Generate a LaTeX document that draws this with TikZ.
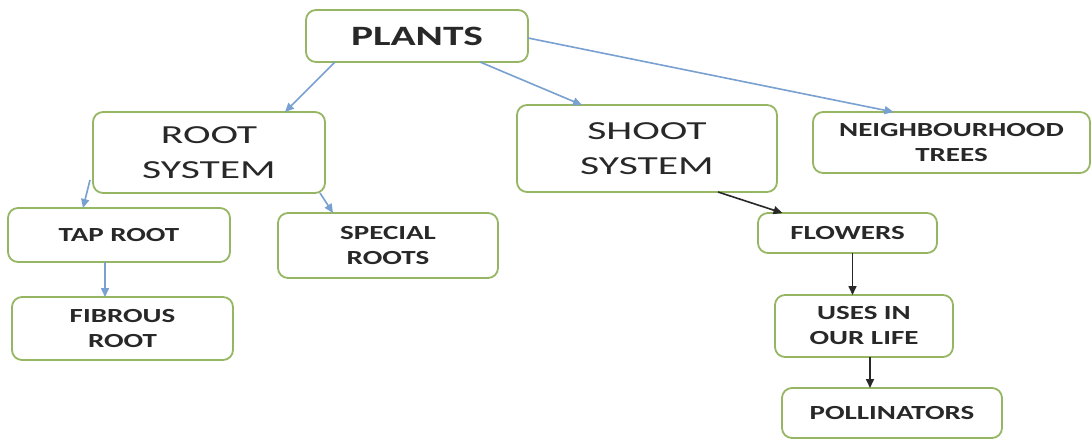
\documentclass[tikz,border=0pt]{standalone}
\usepackage{fontspec}
\usetikzlibrary{arrows.meta}
\newfontfamily\bigfont{Carlito}[FakeStretch=1.6]
\newfontfamily\smallfont{Carlito Bold}[FakeStretch=1.45]
\newfontfamily\topfont{Carlito Bold}[FakeStretch=1.48]
\definecolor{boxgreen}{RGB}{150,182,100}
\definecolor{linkblue}{RGB}{120,160,208}
\definecolor{inkgray}{RGB}{40,40,40}

\begin{document}
\begin{tikzpicture}[x=1pt,y=-1pt,
                box/.style={draw=boxgreen,line width=1.8pt,rounded corners=10pt,fill=white,
                        inner sep=0pt,outer sep=0pt,align=center,text=inkgray},
                bigbox/.style={box,font=\bigfont\fontsize{26}{35}\selectfont},
                smallbox/.style={box,font=\smallfont\fontsize{20}{25}\selectfont},
                bluelink/.style={draw=linkblue,line width=1.6pt,-{Triangle[length=9pt,width=8pt]}},
                blacklink/.style={draw=inkgray,line width=1.6pt,-{Triangle[length=9pt,width=8pt]}}]
                \useasboundingbox (0,0) rectangle (1092,440);

                \node[box,font=\topfont\fontsize{28}{34}\selectfont,
                        minimum width=222pt,minimum height=52pt] (P) at (417,36) {PLANTS};

                \node[bigbox,minimum width=232pt,minimum height=81pt] (R) at (209,152.5) {ROOT\\SYSTEM};
                \node[bigbox,minimum width=260pt,minimum height=87pt] (S) at (647,148.5) {SHOOT\\SYSTEM};
                \node[smallbox,minimum width=277pt,minimum height=61pt] (N) at (951.5,142.5) {NEIGHBOURHOOD\\TREES};

                \node[smallbox,minimum width=222pt,minimum height=54pt] (T) at (119,235) {TAP ROOT};
                \node[smallbox,minimum width=220pt,minimum height=65pt] (Sp) at (388,245.5) {SPECIAL\\ROOTS};
                \node[smallbox,minimum width=221pt,minimum height=63pt] (F) at (122.5,328.5) {FIBROUS\\ROOT};

                \node[smallbox,minimum width=179pt,minimum height=40pt] (Fl) at (847.5,233) {FLOWERS};
                \node[smallbox,minimum width=178pt,minimum height=62pt] (U) at (864,326) {USES IN\\OUR LIFE};
                \node[smallbox,minimum width=220pt,minimum height=50pt] (Po) at (892,413) {POLLINATORS};

                \draw[bluelink] ([xshift=-82pt]P.south) -- ([xshift=76pt]R.north);
                \draw[bluelink] ([xshift=63pt]P.south) -- ([xshift=-65pt]S.north);
                \draw[bluelink] ([yshift=-2pt]P.east) -- ([xshift=-58pt]N.north);

                \draw[bluelink] ([xshift=-3pt,yshift=13pt]R.south west) -- ([xshift=-36pt]T.north);
                \draw[bluelink] ([xshift=-5pt]R.south east) -- ([xshift=-55pt]Sp.north);
                \draw[bluelink] ([xshift=-14pt]T.south) -- ([xshift=-14pt]T.south |- F.north);

                \draw[blacklink] ([xshift=71pt]S.south) -- ([xshift=-65pt]Fl.north);
                \draw[blacklink] ([xshift=5pt]Fl.south) -- ([xshift=5pt]Fl.south |- U.north);
                \draw[blacklink] ([xshift=6pt]U.south) -- ([xshift=6pt]U.south |- Po.north);
            \end{tikzpicture}
\end{document}
